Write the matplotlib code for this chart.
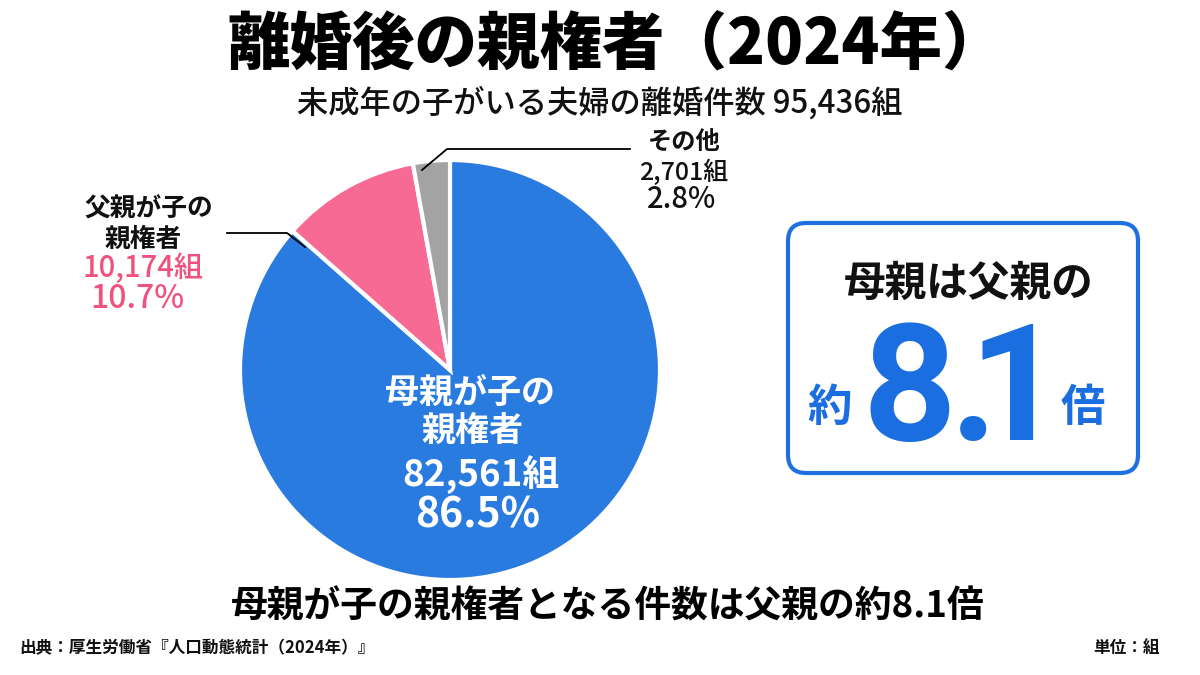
import matplotlib
matplotlib.use("Agg")
import matplotlib.pyplot as plt
from matplotlib.patches import FancyBboxPatch

plt.rcParams['font.family'] = ['Noto Sans CJK JP', 'DejaVu Sans']

# ---- data ----
categories = ["母親が子の親権者", "父親が子の親権者", "その他"]
counts = [82561, 10174, 2701]
percents = ["86.5%", "10.7%", "2.8%"]
count_labels = ["82,561組", "10,174組", "2,701組"]
total_label = "95,436組"
ratio_label = "8.1"
colors = ["#2a7be0", "#f76a93", "#a3a3a3"]

H = 675
fig = plt.figure(figsize=(12, 6.75), dpi=100)
ax = fig.add_axes([0, 0, 1, 1])
ax.set_xlim(0, 1200)
ax.set_ylim(0, H)
ax.set_aspect('equal')
ax.axis('off')

def Y(y):
    return H - y

ax.pie(counts, colors=colors, startangle=90, counterclock=False,
       center=(450, Y(370)), radius=210,
       wedgeprops=dict(edgecolor='white', linewidth=3))
ax.set_xlim(0, 1200)
ax.set_ylim(0, H)

# title
ax.text(616, Y(46), "離婚後の親権者（2024年）", ha='center', va='center',
        fontsize=45, fontweight='black', color='black')
ax.text(600, Y(103), "未成年の子がいる夫婦の離婚件数 " + total_label, ha='center', va='center',
        fontsize=22.5, fontweight='medium', color='#111111')

# mother label inside
ax.text(470, Y(392), "母親が子の", ha='center', va='center', fontsize=24.5, fontweight='bold', color='white')
ax.text(472, Y(430), "親権者", ha='center', va='center', fontsize=24.5, fontweight='bold', color='white')
ax.text(481, Y(475), count_labels[0], ha='center', va='center', fontsize=26.5, fontweight='bold', color='white')
ax.text(478, Y(515), percents[0], ha='center', va='center', fontsize=29.5, fontweight='bold', color='white')

# father label
ax.text(149, Y(209), "父親が子の", ha='center', va='center', fontsize=18.5, fontweight='bold', color='#111111')
ax.text(143, Y(239), "親権者", ha='center', va='center', fontsize=18.5, fontweight='bold', color='#111111')
ax.text(143, Y(268), count_labels[1], ha='center', va='center', fontsize=21, fontweight='medium', color='#f0527f')
ax.text(137, Y(299), percents[1], ha='center', va='center', fontsize=23, fontweight='medium', color='#f0527f')
ax.plot([227, 287, 305], [Y(233), Y(233), Y(247)], color='black', lw=1.3)

# other label
ax.text(684, Y(143), "その他", ha='center', va='center', fontsize=17.5, fontweight='bold', color='#111111')
ax.text(684, Y(173), count_labels[2], ha='center', va='center', fontsize=18, fontweight='medium', color='#111111')
ax.text(682, Y(200), percents[2], ha='center', va='center', fontsize=21, fontweight='medium', color='#111111')
ax.plot([422, 447, 630], [Y(170), Y(149), Y(149)], color='black', lw=1.3)

# ratio box
box = FancyBboxPatch((788, Y(473)), 350, 250, boxstyle="round,pad=0,rounding_size=18",
                     facecolor='white', edgecolor='#1f6fe0', linewidth=3)
ax.add_patch(box)
ax.text(969, Y(284), "母親は父親の", ha='center', va='center', fontsize=30, fontweight='bold', color='#111111')
big_font = ['Roboto']
glyph_x = [910, 974, 1015]
for ch, gx in zip(ratio_label, glyph_x):
    ax.text(gx, Y(440), ch, ha='center', va='baseline', fontsize=118, fontweight='bold',
            color='#1a6ee0', family=big_font)
ax.text(830, Y(408), "約", ha='center', va='center', fontsize=32, fontweight='bold', color='#1a6ee0')
ax.text(1083, Y(408), "倍", ha='center', va='center', fontsize=32, fontweight='bold', color='#1a6ee0')

# bottom text
ax.text(608, Y(607), "母親が子の親権者となる件数は父親の約8.1倍", ha='center', va='center',
        fontsize=26.5, fontweight='bold', color='black')
ax.text(19, Y(648), "出典：厚生労働省『人口動態統計（2024年）』", ha='left', va='center',
        fontsize=12, fontweight='bold', color='#111111')
ax.text(1160, Y(648), "単位：組", ha='right', va='center',
        fontsize=12, fontweight='bold', color='#111111')

fig.savefig("out.png", dpi=100, facecolor='white')
